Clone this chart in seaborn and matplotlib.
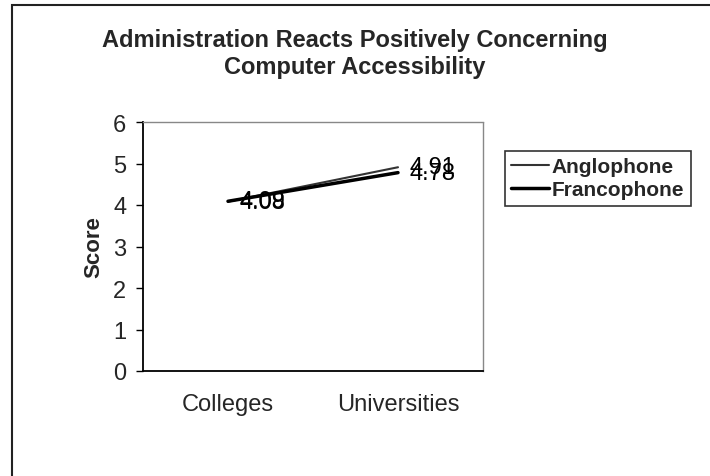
"""
Administration reacts positively concerning computer accessibility - line chart
"""
import pandas as pd
import seaborn as sns
import matplotlib.pyplot as plt
from matplotlib.patches import Rectangle

categories = ["Colleges", "Universities"]
anglophone = [4.08, 4.91]
francophone = [4.09, 4.78]
series_names = ["Anglophone", "Francophone"]
y_ticks = [0, 1, 2, 3, 4, 5, 6]

df = pd.DataFrame({
    "institution": categories * 2,
    "score": anglophone + francophone,
    "group": [series_names[0]] * 2 + [series_names[1]] * 2,
})

sns.set_style("white")
plt.rcParams["font.family"] = ["Liberation Sans", "DejaVu Sans"]

fig = plt.figure(figsize=(7.1, 4.77), dpi=100)
ax = fig.add_axes([143 / 710, 1 - 372 / 477, 340 / 710, 249 / 477])

sns.lineplot(data=df, x="institution", y="score", hue="group", size="group",
             palette={"Anglophone": "#333333", "Francophone": "#000000"},
             sizes={"Anglophone": 1.5, "Francophone": 2.5},
             sort=False, ax=ax, legend=True)

# data labels to the right of each point
for i, cat in enumerate(categories):
    for vals in (anglophone, francophone):
        ax.annotate(f"{vals[i]:.2f}", (i, vals[i]), xytext=(8, 0),
                    textcoords="offset points", va="center", ha="left",
                    fontsize=17, color="black")

ax.set_xlim(-0.5, 1.5)
ax.set_ylim(0, 6)
ax.set_yticks(y_ticks)
ax.set_yticklabels([str(t) for t in y_ticks], fontsize=17)
ax.set_xticks([0, 1])
ax.set_xticklabels(categories, fontsize=17)
ax.set_xticks([-0.5, 0.5, 1.5], minor=True)
ax.tick_params(axis="x", which="major", length=0, pad=16)
ax.tick_params(axis="x", which="minor", length=4, direction="out", width=1, color="black")
ax.tick_params(axis="y", length=5, width=1, direction="out", color="black", pad=7, left=True)
ax.set_xlabel("")
ax.set_ylabel("Score", fontsize=16, fontweight="bold", labelpad=6)

for side in ("left", "bottom"):
    ax.spines[side].set_color("black")
    ax.spines[side].set_linewidth(1.3)
for side in ("top", "right"):
    ax.spines[side].set_color("#888888")
    ax.spines[side].set_linewidth(1.0)
    ax.spines[side].set_linestyle((0, (2, 1)))

leg = ax.legend(title=None, loc="upper left", bbox_to_anchor=(505 / 710, 1 - 152 / 477),
                bbox_transform=fig.transFigure, borderaxespad=0, frameon=True, fancybox=False,
                handlelength=1.8, handletextpad=0.15, borderpad=0.3, labelspacing=0.2,
                prop={"weight": "bold", "size": 15})
leg.get_frame().set_edgecolor("black")
leg.get_frame().set_linewidth(1.2)

fig.text(0.5, 1 - 54 / 477, "Administration Reacts Positively Concerning\nComputer Accessibility",
         ha="center", va="center", fontsize=17, fontweight="bold", linespacing=1.25)

# outer chart border (clipped by the page on right and bottom)
fig.patches.append(Rectangle((12 / 710, -0.1), 1.2, 1 - 6 / 477 + 0.1,
                             transform=fig.transFigure, fill=False,
                             edgecolor="#222222", linewidth=1.5))

fig.savefig("out.png", dpi=100)
print("saved out.png")
